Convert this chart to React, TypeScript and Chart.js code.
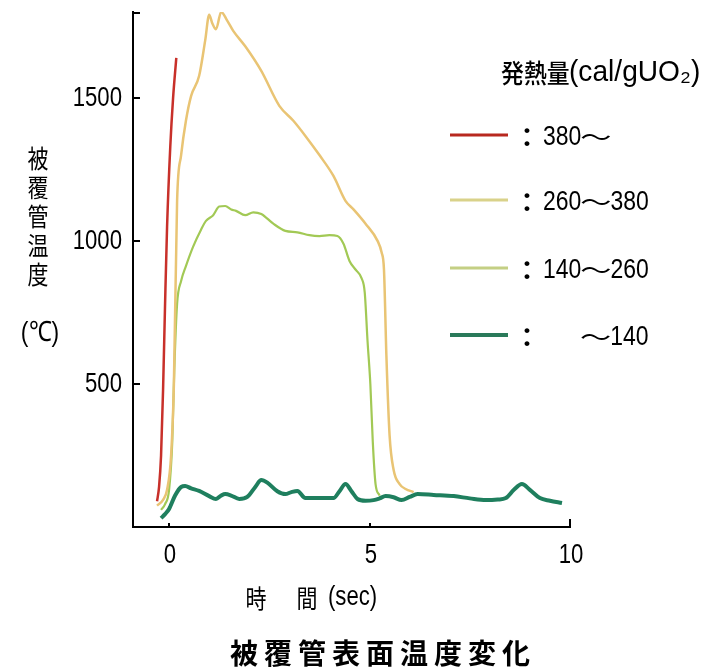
import React, { useEffect, useRef } from "react";
import { Chart, registerables } from "chart.js";

Chart.register(...registerables);

// ---- data (time in sec, temperature in °C) ----
const tRed = [-0.3, -0.25, -0.2, -0.15, -0.1, -0.05, 0.03, 0.1, 0.18];
const vRed = [90, 140, 250, 480, 780, 1050, 1330, 1500, 1640];

const tYellow = [-0.3, -0.15, -0.05, 0.05, 0.12, 0.2, 0.3, 0.42, 0.55, 0.75, 0.9, 1.0, 1.08, 1.17, 1.3, 1.45, 1.6, 1.9, 2.3, 2.75, 3.1, 3.4, 3.75, 4.1, 4.4, 4.6, 4.9, 5.2, 5.3, 5.36, 5.42, 5.5, 5.6, 5.75, 5.9, 6.1];
const vYellow = [75, 95, 130, 250, 500, 1140, 1300, 1420, 1507, 1577, 1700, 1790, 1760, 1740, 1800, 1770, 1734, 1680, 1594, 1472, 1420, 1367, 1300, 1227, 1140, 1110, 1060, 1000, 960, 900, 600, 320, 200, 150, 133, 122];

const tGreen = [-0.2, -0.1, 0.0, 0.08, 0.13, 0.2, 0.3, 0.42, 0.6, 0.8, 0.92, 1.1, 1.25, 1.4, 1.55, 1.67, 1.9, 2.1, 2.3, 2.6, 2.9, 3.2, 3.5, 3.75, 4.0, 4.2, 4.35, 4.5, 4.65, 4.8, 4.88, 4.95, 5.02, 5.08, 5.15, 5.25];
const vGreen = [60, 80, 130, 300, 550, 780, 860, 912, 980, 1040, 1070, 1090, 1120, 1122, 1110, 1105, 1090, 1100, 1094, 1060, 1035, 1030, 1020, 1017, 1020, 1017, 990, 930, 900, 870, 820, 650, 500, 300, 150, 110];

const tTeal = [-0.2, -0.1, 0, 0.15, 0.3, 0.4, 0.55, 0.75, 1.0, 1.17, 1.3, 1.4, 1.55, 1.75, 1.95, 2.15, 2.3, 2.45, 2.7, 2.9, 3.05, 3.2, 3.4, 3.7, 4.1, 4.25, 4.4, 4.55, 4.7, 4.9, 5.1, 5.25, 5.4, 5.6, 5.8, 6.0, 6.2, 6.6, 7.1, 7.5, 7.9, 8.2, 8.4, 8.6, 8.8, 9.0, 9.25, 9.5, 9.8];
const vTeal = [31, 45, 63, 110, 140, 143, 135, 126, 108, 98, 110, 115, 110, 98, 105, 140, 164, 155, 125, 115, 122, 126, 101, 101, 101, 125, 150, 125, 98, 92, 94, 100, 108, 104, 94, 105, 115, 112, 108, 100, 94, 96, 101, 130, 150, 130, 101, 92, 84];

const xTickValues = [0, 5, 10];
const yTickValues = [500, 1000, 1500];

const legendTitle = "発熱量";
const legendUnit = "(cal/gUO₂)";
const legendLabels = ["380～", "260～380", "140～260", "～140"];
const yTitleChars = ["被", "覆", "管", "温", "度"];
const yUnit = "(℃)";
const xTitleChars = ["時", "間"];
const xUnit = "(sec)";
const chartTitle = "被覆管表面温度変化";

const colRed = "#c8302a";
const colYellow = "#e9c474";
const colGreen = "#a2c955";
const colTeal = "#1f7f5e";
const legendColors = ["#b8281f", "#d9d28a", "#c4cf84", "#2a7a5a"];

const SANS = '"Liberation Sans", Arial, sans-serif';
const CJK = '"Noto Sans CJK JP", sans-serif';
const SX = 0.82; // horizontal condensing of the narrow face

const toPts = (ts: number[], vs: number[]) => ts.map((t, i) => ({ x: t, y: vs[i] }));

function drawText(ctx: any, text: string, x: number, y: number, font: string, align: string, sx: number) {
  ctx.save();
  ctx.font = font;
  ctx.textAlign = align;
  ctx.textBaseline = "middle";
  ctx.translate(x, y);
  ctx.scale(sx, 1);
  ctx.fillText(text, 0, 0);
  ctx.restore();
}

// draws a label like "260～380": digits in condensed sans, the wave dash wide
function drawRangeLabel(ctx: any, label: string, x: number, y: number) {
  const parts = label.split("～");
  let cx = x;
  parts.forEach((p, i) => {
    if (p) {
      ctx.font = "28px " + SANS;
      const w = ctx.measureText(p).width * SX;
      drawText(ctx, p, cx, y, "28px " + SANS, "left", SX);
      cx += w;
    }
    if (i < parts.length - 1) {
      // wave dash
      ctx.font = "24px " + CJK;
      const w = ctx.measureText("～").width * 1.3;
      drawText(ctx, "～", cx - 1, y, "24px " + CJK, "left", 1.3);
      cx += w - 2;
    }
  });
}

const decorPlugin = {
  id: "decor",
  afterDraw(chart: any) {
    const ctx = chart.ctx;
    const xs = chart.scales.x;
    const ys = chart.scales.y;
    const area = chart.chartArea;
    ctx.save();
    ctx.strokeStyle = "#000";
    ctx.lineWidth = 2;
    ctx.fillStyle = "#000";
    // y ticks (inward) and labels
    yTickValues.forEach((v) => {
      const y = Math.round(ys.getPixelForValue(v));
      ctx.beginPath();
      ctx.moveTo(area.left, y);
      ctx.lineTo(area.left + 7, y);
      ctx.stroke();
      drawText(ctx, String(v), 122, y + 1, "27px " + SANS, "right", SX);
    });
    // top bracket
    ctx.beginPath();
    ctx.moveTo(area.left, area.top + 1);
    ctx.lineTo(area.left + 7, area.top + 1);
    ctx.stroke();
    // x ticks and labels
    xTickValues.forEach((v) => {
      const x = Math.round(xs.getPixelForValue(v));
      ctx.beginPath();
      ctx.moveTo(x, area.bottom);
      ctx.lineTo(x, area.bottom - (v === 10 ? 8 : 4));
      ctx.stroke();
      drawText(ctx, String(v), x + 1, 556, "27px " + SANS, "center", SX);
    });

    // y title
    const yc = [158, 187, 216, 245, 274];
    yTitleChars.forEach((c, i) => drawText(ctx, c, 38, yc[i], "25px " + CJK, "center", 0.84));
    drawText(ctx, yUnit, 40, 333, "28px " + SANS, "center", SX);

    // x title
    drawText(ctx, xTitleChars[0], 256, 598, "25px " + CJK, "center", 0.84);
    drawText(ctx, xTitleChars[1], 307, 598, "25px " + CJK, "center", 0.84);
    drawText(ctx, xUnit, 328, 598, "27px " + SANS, "left", SX);

    // chart title
    for (let i = 0; i < chartTitle.length; i++) {
      drawText(ctx, chartTitle[i], 244 + i * 34, 653, "bold 28px " + CJK, "center", 1);
    }

    // legend
    drawText(ctx, legendTitle, 501, 73, "500 26px " + CJK, "left", 0.88);
    drawText(ctx, legendUnit, 569, 73, "29px " + SANS, "left", 0.97);
    const rows = [135, 200, 268, 335];
    rows.forEach((ry, i) => {
      ctx.strokeStyle = legendColors[i];
      ctx.lineWidth = i === 3 ? 4 : 3;
      ctx.beginPath();
      ctx.moveTo(450, ry);
      ctx.lineTo(508, ry);
      ctx.stroke();
      ctx.fillStyle = "#000";
      drawText(ctx, "：", 527, ry + 2, "bold 26px " + CJK, "center", 1);
      drawRangeLabel(ctx, legendLabels[i], i === 3 ? 581 : 543, ry + 2);
    });
    ctx.restore();
  },
};

export default function App() {
  const ref = useRef<HTMLCanvasElement | null>(null);
  useEffect(() => {
    if (!ref.current) return;
    const chart = new Chart(ref.current, {
      type: "line",
      data: {
        datasets: [
          { label: "380～", data: toPts(tRed, vRed), borderColor: colRed, borderWidth: 2.5 },
          { label: "260～380", data: toPts(tYellow, vYellow), borderColor: colYellow, borderWidth: 2.5 },
          { label: "140～260", data: toPts(tGreen, vGreen), borderColor: colGreen, borderWidth: 2.2 },
          { label: "～140", data: toPts(tTeal, vTeal), borderColor: colTeal, borderWidth: 4 },
        ].map((d) => ({ ...d, pointRadius: 0, fill: false, cubicInterpolationMode: "monotone" as const })),
      },
      options: {
        animation: false,
        responsive: false,
        devicePixelRatio: 1,
        layout: { padding: { left: 0, right: 146, top: 12, bottom: 0 } },
        plugins: { legend: { display: false }, tooltip: { enabled: false } },
        scales: {
          x: {
            type: "linear",
            min: -0.9,
            max: 10,
            grid: { display: false, drawTicks: false },
            border: { display: true, color: "#000", width: 2 },
            ticks: { display: false },
            afterBuildTicks: (s: any) => { s.ticks = xTickValues.map((v) => ({ value: v })); },
            afterFit: (s: any) => { s.height = 142; },
          },
          y: {
            min: 0,
            max: 1800,
            grid: { display: false, drawTicks: false },
            border: { display: true, color: "#000", width: 2 },
            ticks: { display: false },
            afterBuildTicks: (s: any) => { s.ticks = yTickValues.map((v) => ({ value: v })); },
            afterFit: (s: any) => { s.width = 133; },
          },
        },
      },
      plugins: [decorPlugin],
    });
    return () => chart.destroy();
  }, []);
  return (
    <div style={{ position: "fixed", left: 0, top: 0, width: 716, height: 669, background: "#fff" }}>
      <canvas ref={ref} width={716} height={669} style={{ display: "block", width: 716, height: 669 }} />
    </div>
  );
}
